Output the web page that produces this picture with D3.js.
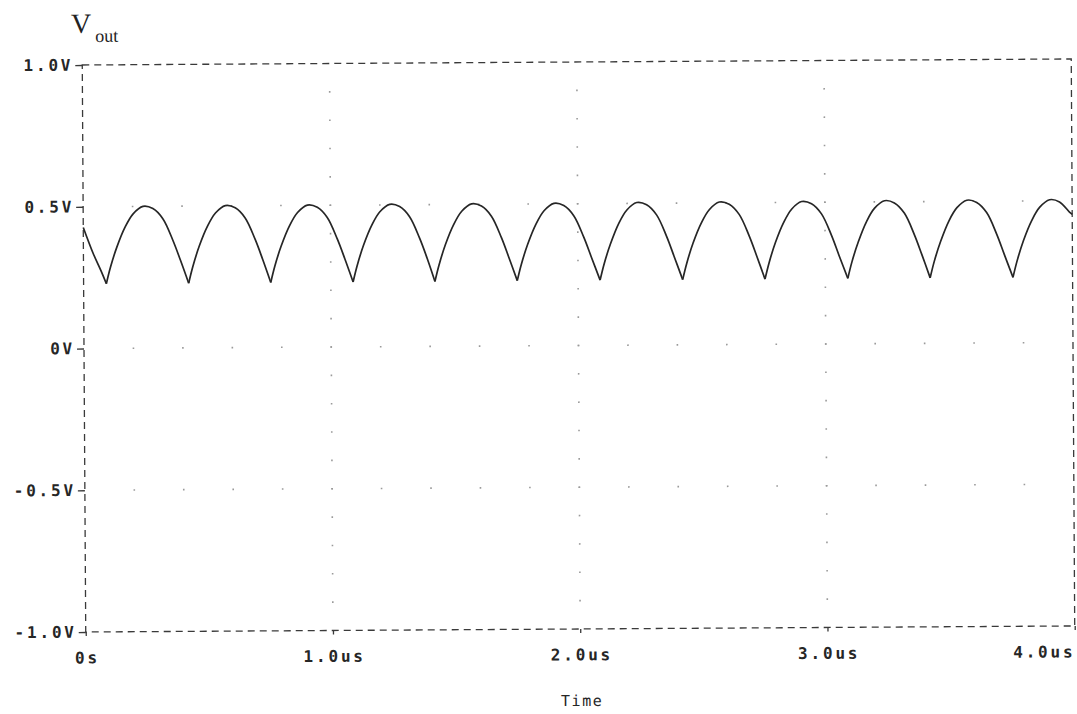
<!DOCTYPE html>
<html>
<head>
<meta charset="utf-8">
<script src="https://cdn.jsdelivr.net/npm/d3@7"></script>
<style>
  html, body { margin: 0; padding: 0; background: #fff; }
  svg { display: block; }
  .tick-label { font-family: "DejaVu Sans Mono", monospace; font-weight: bold; font-size: 16px; fill: #262626; letter-spacing: 2.8px; }
  .axis-title { font-family: "DejaVu Sans Mono", monospace; font-size: 15px; fill: #262626; letter-spacing: 1.6px; }
  .trace-title { font-family: "Liberation Serif", "Times New Roman", serif; fill: #222; }
</style>
</head>
<body>
<svg id="chart" width="1077" height="714"></svg>
<script>
// Time axis (microseconds) and output voltage of the rectifier
const timeUs = [
  0.000, 0.040, 0.070,
  0.092, 0.109, 0.135, 0.169, 0.202, 0.242, 0.282, 0.322, 0.362, 0.392,
  0.425, 0.442, 0.468, 0.502, 0.535, 0.575, 0.615, 0.655, 0.695, 0.725,
  0.757, 0.774, 0.800, 0.834, 0.867, 0.907, 0.947, 0.987, 1.027, 1.057,
  1.090, 1.107, 1.133, 1.167, 1.200, 1.240, 1.280, 1.320, 1.360, 1.390,
  1.421, 1.438, 1.464, 1.498, 1.531, 1.571, 1.611, 1.651, 1.691, 1.721,
  1.754, 1.771, 1.797, 1.831, 1.864, 1.904, 1.944, 1.984, 2.024, 2.054,
  2.089, 2.106, 2.132, 2.166, 2.199, 2.239, 2.279, 2.319, 2.359, 2.389,
  2.423, 2.440, 2.466, 2.500, 2.533, 2.573, 2.613, 2.653, 2.693, 2.723,
  2.756, 2.773, 2.799, 2.833, 2.866, 2.906, 2.946, 2.986, 3.026, 3.056,
  3.091, 3.108, 3.134, 3.168, 3.201, 3.241, 3.281, 3.321, 3.361, 3.391,
  3.424, 3.441, 3.467, 3.501, 3.534, 3.574, 3.614, 3.654, 3.694, 3.724,
  3.759, 3.776, 3.802, 3.836, 3.869, 3.909, 3.949, 3.989, 4.000
];
const vout = [
  0.427, 0.334, 0.275,
  0.228, 0.286, 0.356, 0.427, 0.474, 0.500, 0.492, 0.456, 0.380, 0.310,
  0.228, 0.286, 0.357, 0.428, 0.475, 0.501, 0.493, 0.457, 0.381, 0.310,
  0.229, 0.287, 0.357, 0.428, 0.475, 0.501, 0.493, 0.457, 0.381, 0.311,
  0.229, 0.287, 0.358, 0.429, 0.476, 0.502, 0.494, 0.458, 0.382, 0.311,
  0.229, 0.287, 0.358, 0.429, 0.476, 0.502, 0.494, 0.458, 0.382, 0.311,
  0.230, 0.288, 0.358, 0.429, 0.476, 0.502, 0.494, 0.458, 0.382, 0.312,
  0.230, 0.288, 0.358, 0.430, 0.477, 0.503, 0.495, 0.459, 0.383, 0.312,
  0.230, 0.288, 0.359, 0.430, 0.477, 0.503, 0.495, 0.459, 0.383, 0.312,
  0.230, 0.288, 0.359, 0.430, 0.477, 0.503, 0.495, 0.459, 0.383, 0.312,
  0.231, 0.289, 0.359, 0.431, 0.478, 0.504, 0.496, 0.460, 0.384, 0.313,
  0.231, 0.289, 0.359, 0.431, 0.478, 0.504, 0.496, 0.460, 0.384, 0.313,
  0.231, 0.289, 0.360, 0.431, 0.478, 0.504, 0.496, 0.460, 0.452
];

const xTicks = [0, 1, 2, 3, 4];
const xTickLabels = ["0s", "1.0us", "2.0us", "3.0us", "4.0us"];
const yTicks = [1, 0.5, 0, -0.5, -1];
const yTickLabels = ["1.0V", "0.5V", "0V", "-0.5V", "-1.0V"];
const yGridLevels = [0.5, 0, -0.5];
const xGridTimes = [1, 2, 3];

const svg = d3.select("#chart");
// the printed plot sits very slightly tilted on the page
const root = svg.append("g").attr("transform", "rotate(-0.35 84 348)");

const x = d3.scaleLinear().domain([0, 4]).range([84, 1073]);
const y = d3.scaleLinear().domain([-1, 1]).range([632, 65]);

const ink = "#3a3a3a";

// dotted grid: dots every 0.2us on horizontal levels, every 0.1V on vertical lines
const dotTimes = d3.range(1, 20).map(i => i * 0.2);
const dotVolts = d3.range(-9, 10).map(i => i * 0.1);
const dots = [];
yGridLevels.forEach(v => dotTimes.forEach(t => dots.push([t, v])));
xGridTimes.forEach(t => dotVolts.forEach(v => dots.push([t, v])));
root.append("g").selectAll("rect").data(dots).join("rect")
  .attr("x", d => x(d[0]) - 0.8)
  .attr("y", d => y(d[1]) - 0.8)
  .attr("width", 1.6).attr("height", 1.6)
  .attr("fill", "#9a9a9a");

// dashed plot frame
root.append("rect")
  .attr("x", x(0)).attr("y", y(1))
  .attr("width", x(4) - x(0)).attr("height", y(-1) - y(1))
  .attr("fill", "none").attr("stroke", ink).attr("stroke-width", 1.3)
  .attr("stroke-dasharray", "7,5");

// axes with short ticks
const yAxis = d3.axisLeft(y).tickValues(yTicks).tickSize(7)
  .tickFormat((d, i) => yTickLabels[i]).tickPadding(2);
const gy = root.append("g").attr("transform", `translate(${x(0)},0)`).call(yAxis);
gy.select(".domain").remove();
gy.selectAll(".tick line").attr("stroke", ink).attr("stroke-width", 1.3);
gy.selectAll(".tick text").attr("class", "tick-label").attr("font-size", null).attr("font-family", null);

const xAxis = d3.axisBottom(x).tickValues(xTicks).tickSize(4)
  .tickFormat((d, i) => xTickLabels[i]).tickPadding(16);
const gx = root.append("g").attr("transform", `translate(0,${y(-1)})`).call(xAxis);
gx.select(".domain").remove();
gx.selectAll(".tick line").attr("stroke", ink).attr("stroke-width", 1.3);
gx.selectAll(".tick text").attr("class", "tick-label").attr("font-size", null).attr("font-family", null)
  .attr("text-anchor", (d, i) => i === xTicks.length - 1 ? "end" : "middle")
  .attr("dx", (d, i) => i === xTicks.length - 1 ? 0 : 1);

// waveform: each arch drawn as its own smooth segment so the valleys stay sharp
const pts = timeUs.map((t, i) => [t, vout[i]]);
const segments = [];
let current = [pts[0]];
for (let i = 1; i < pts.length; i++) {
  current.push(pts[i]);
  const isValley = i < pts.length - 1 && pts[i][1] < pts[i - 1][1] && pts[i][1] < pts[i + 1][1];
  if (isValley) { segments.push(current); current = [pts[i]]; }
}
segments.push(current);

const line = d3.line()
  .x(d => x(d[0])).y(d => y(d[1]))
  .curve(d3.curveCatmullRom.alpha(0.5));
root.append("g").selectAll("path").data(segments).join("path")
  .attr("d", line)
  .attr("fill", "none").attr("stroke", "#262626").attr("stroke-width", 1.7)
  .attr("stroke-linejoin", "round");

// titles
const vt = root.append("text").attr("class", "trace-title").attr("x", 73).attr("y", 33);
vt.append("tspan").attr("font-size", 28).text("V");
vt.append("tspan").attr("font-size", 18).attr("dx", 4).attr("dy", 9).text("out");

root.append("text").attr("class", "axis-title")
  .attr("x", 580).attr("y", 709).attr("text-anchor", "middle").text("Time");
</script>
</body>
</html>
